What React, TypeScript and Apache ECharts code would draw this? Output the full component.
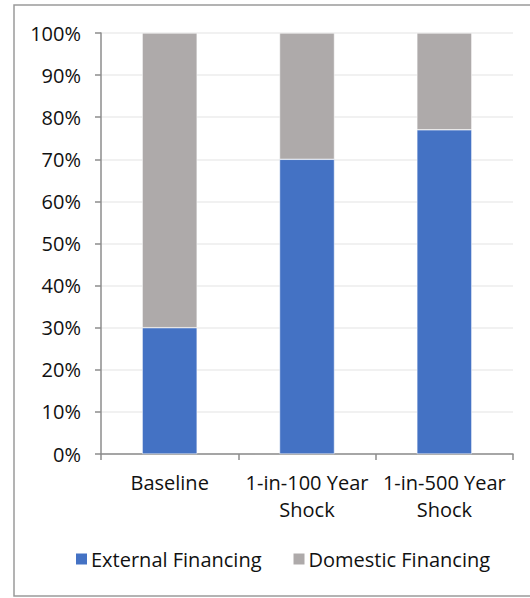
import React, { useEffect, useRef } from "react";
import * as echarts from "echarts";

const categories = ["Baseline", "1-in-100 Year\nShock", "1-in-500 Year\nShock"];
const externalFinancing = [30, 70, 77];
const domesticFinancing = [70, 30, 23];

export default function App() {
  const ref = useRef<HTMLDivElement>(null);
  useEffect(() => {
    document.body.style.margin = "0";
    const chart = echarts.init(ref.current!, null, { renderer: "svg" });
    const font = "'Open Sans', 'Noto Sans', sans-serif";
    chart.setOption({
      animation: false,
      backgroundColor: "#ffffff",
      textStyle: { fontFamily: font },
      graphic: [
        {
          type: "rect",
          shape: { x: 14, y: 5, width: 540, height: 591 },
          style: { fill: "none", stroke: "#9a9a9a", lineWidth: 1.5 },
          silent: true,
        },
      ],
      grid: { left: 101, right: 17, top: 33, bottom: 144 },
      legend: {
        bottom: 24,
        left: 69,
        itemWidth: 13,
        itemHeight: 13,
        itemGap: 30,
        icon: "rect",
        textStyle: { fontSize: 20, color: "#111", fontFamily: font, padding: [0, 0, 0, -2] },
        data: ["External Financing", "Domestic Financing"],
      },
      xAxis: {
        type: "category",
        data: categories,
        axisLine: { lineStyle: { color: "#8c8c8c", width: 1.5 } },
        axisTick: { show: true, length: 6, lineStyle: { color: "#8c8c8c", width: 1.5 } },
        axisLabel: { fontSize: 20, color: "#111", margin: 15, lineHeight: 27, fontFamily: font, interval: 0 },
      },
      yAxis: {
        type: "value",
        min: 0,
        max: 100,
        interval: 10,
        axisLine: { show: true, lineStyle: { color: "#8c8c8c", width: 1.5 } },
        axisTick: { show: true, length: 6, lineStyle: { color: "#8c8c8c", width: 1.5 } },
        axisLabel: { fontSize: 20, color: "#111", margin: 20, formatter: "{value}%", fontFamily: font },
        splitLine: { lineStyle: { color: "#ececec", width: 1.5 } },
      },
      series: [
        {
          name: "External Financing",
          type: "bar",
          stack: "total",
          data: externalFinancing,
          barWidth: "40%",
          itemStyle: { color: "#4472C4", borderColor: "#ffffff", borderWidth: 0.5 },
        },
        {
          name: "Domestic Financing",
          type: "bar",
          stack: "total",
          data: domesticFinancing,
          barWidth: "40%",
          itemStyle: { color: "#AEAAAA", borderColor: "#ffffff", borderWidth: 0.5 },
        },
      ],
    });
    return () => chart.dispose();
  }, []);
  return <div ref={ref} style={{ width: 530, height: 598 }} />;
}
